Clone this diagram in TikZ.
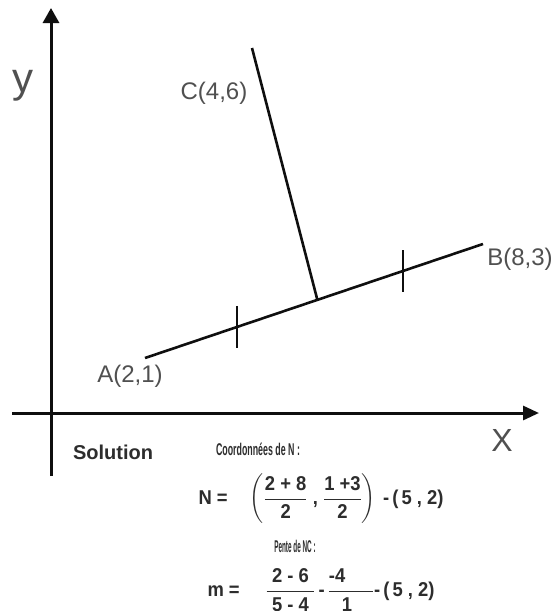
\documentclass[tikz,border=0pt]{standalone}
\usepackage{amsmath}
\usepackage{fontspec}
\setmainfont{Liberation Sans}
\usetikzlibrary{calc,arrows.meta,positioning}
\definecolor{axisblack}{RGB}{15,15,15}
\definecolor{ptgray}{RGB}{80,80,80}
\definecolor{soldark}{RGB}{45,45,45}

\tikzset{
    axisline/.style={axisblack, line width=3pt},
    segline/.style={axisblack, line width=2.6pt},
    ptlabel/.style={text=ptgray, font=\fontsize{24}{28}\selectfont, inner sep=0pt},
    headtext/.style={text=soldark, font=\bfseries\fontsize{17}{19}\selectfont, inner sep=0pt, xscale=0.52, transform shape},
    eqtext/.style={text=soldark, font=\bfseries\fontsize{20}{24}\selectfont, inner sep=0pt, xscale=0.92, transform shape}
}

\begin{document}
\begin{tikzpicture}[x=1pt,y=-1pt]
    \fill[white] (0,0) rectangle (557,611);
    \clip (0,0) rectangle (557,611);

    % axes
    \coordinate (ybot) at (51,476);
    \coordinate (ytop) at (51,8);
    \coordinate (xleft) at (12,413);
    \coordinate (xright) at (539,413);
    \draw[axisline, -{Triangle[length=15pt,width=16pt]}] (ybot)--(ytop);
    \draw[axisline, -{Triangle[length=16pt,width=14pt]}] (xleft)--(xright);
    \node[text=ptgray, font=\fontsize{42}{46}\selectfont, inner sep=0pt] (ylab) at (23,86) {y};
    \node[text=ptgray, font=\fontsize{32}{36}\selectfont, inner sep=0pt] (xlab) at (502,440) {X};

    % points A, B, C and the midpoint N
    \coordinate (A) at (145,358);
    \coordinate (B) at (483,244);
    \coordinate (C) at (252,48);
    \coordinate (N) at ($(A)!0.51!(B)$);
    \draw[segline] (A)--(B);
    \draw[segline] (C)--(N);

    % marks for equal halves
    \foreach \t/\nm in {0.272/ma,0.763/mb}{
        \coordinate (\nm) at ($(A)!\t!(B)$);
        \draw[segline] ($(\nm)+(0,-21)$)--($(\nm)+(0,21)$);
    }

    % point labels
    \node[ptlabel] (Alab) at (130,376) {A(2,1)};
    \node[ptlabel] (Blab) at (520,259) {B(8,3)};
    \node[ptlabel] (Clab) at (214,93) {C(4,6)};

    % solution text
    \node[text=soldark, font=\bfseries\fontsize{20}{24}\selectfont, inner sep=0pt] (sol) at (113,452) {Solution};
    \node[headtext] (coordhead) at (258,449) {Coordonnées de N :};
    \node[eqtext] (Neq) at (321,499) {N =\hspace{24pt}$\biggl(\dfrac{\text{2 + 8}}{\text{2}}\;\text{,}\;\dfrac{\text{1 +3}}{\text{2}}\biggr)$\hspace{8pt}-\,(\,5 , 2)};
    \node[headtext, xscale=0.72] (pentehead) at (295,546) {Pente de NC :};
    \node[eqtext] (meq) at (321,590) {m =\hspace{28pt}$\dfrac{\makebox[52pt]{2 - 6}}{\makebox[52pt]{5 - 4}}$\,-\,$\dfrac{\makebox[48pt]{-4\hfill}}{\makebox[48pt]{\hspace{14pt}1\hfill}}$-\,(\,5 , 2)};
\end{tikzpicture}
\end{document}
